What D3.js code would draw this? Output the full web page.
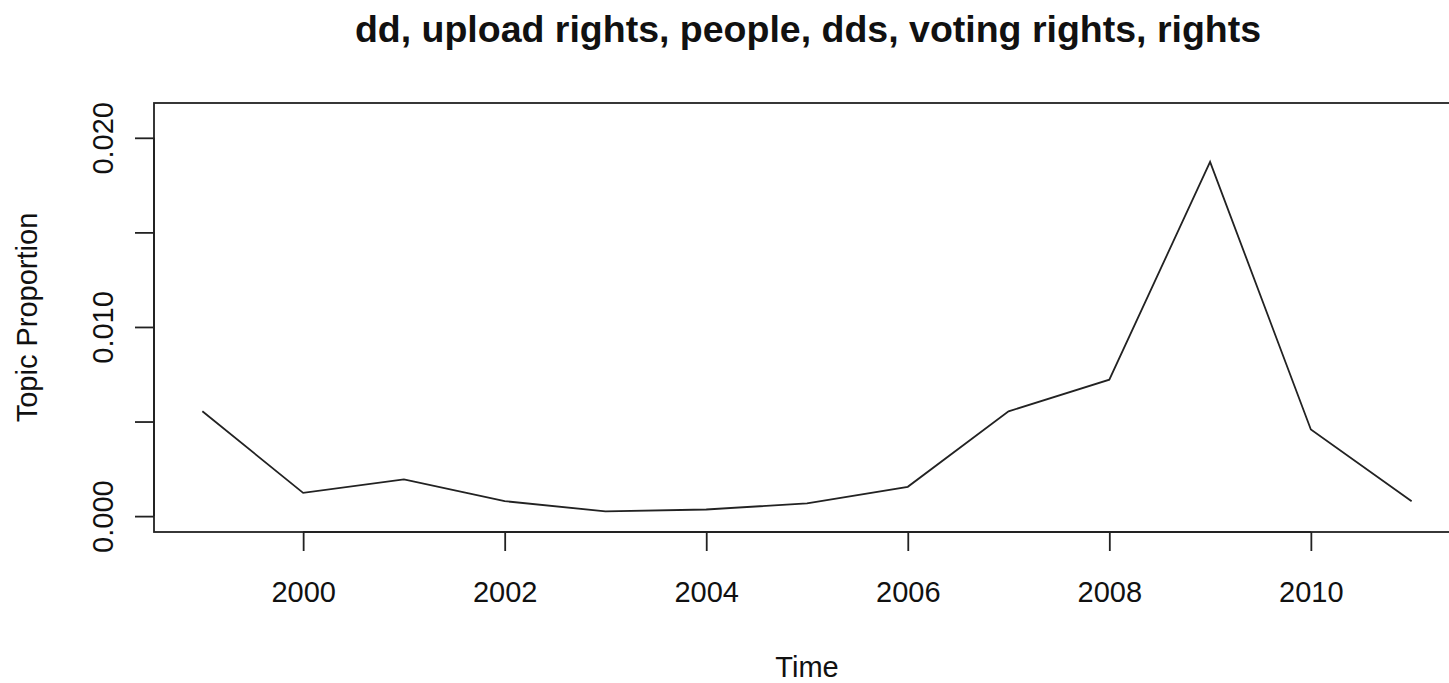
<!DOCTYPE html>
<html>
<head>
<meta charset="utf-8">
<script src="https://cdn.jsdelivr.net/npm/d3@7"></script>
<style>
  html, body { margin: 0; padding: 0; background: #fff; }
  svg text { font-family: "Liberation Sans", Arial, Helvetica, sans-serif; fill: #111; }
</style>
</head>
<body>
<svg id="chart" width="1449" height="683"></svg>
<script>
const years = [1999, 2000, 2001, 2002, 2003, 2004, 2005, 2006, 2007, 2008, 2009, 2010, 2011];
const proportions = [0.00554, 0.00123, 0.00194, 0.00079, 0.00025, 0.00035, 0.00067, 0.00155, 0.00554, 0.00721, 0.01873, 0.00458, 0.00079];
const xTicks = [2000, 2002, 2004, 2006, 2008, 2010];
const yTicks = [0.000, 0.005, 0.010, 0.015, 0.020];
const yTickLabels = ["0.000", "", "0.010", "", "0.020"];
const titleText = "dd, upload rights, people, dds, voting rights, rights";
const xLabel = "Time";
const yLabel = "Topic Proportion";

(function () {
const svg = d3.select("#chart");
const pLeft = 154, pRight = 1460, pTop = 103, pBottom = 532;

const x = d3.scaleLinear().domain([1998.52, 2011.48]).range([pLeft, pRight]);
const y = d3.scaleLinear().domain([-0.00084, 0.02184]).range([pBottom, pTop]);

const ink = "#222";

// plot box
svg.append("rect")
  .attr("x", pLeft).attr("y", pTop)
  .attr("width", pRight - pLeft).attr("height", pBottom - pTop)
  .attr("fill", "none").attr("stroke", ink).attr("stroke-width", 1.8);

// x axis
const xAxis = d3.axisBottom(x).tickValues(xTicks).tickFormat(d3.format("d")).tickSize(19).tickPadding(30);
const gx = svg.append("g").attr("transform", `translate(0,${pBottom})`).call(xAxis);
gx.select(".domain").attr("d", `M${x(xTicks[0])},0H${x(xTicks[xTicks.length-1])}`).attr("stroke", ink).attr("stroke-width", 1.8);
gx.selectAll(".tick line").attr("stroke", ink).attr("stroke-width", 1.8);
gx.selectAll(".tick text").attr("font-size", 29).attr("font-family", "Liberation Sans, Arial, sans-serif").attr("fill", "#111");

// y axis
const yAxis = d3.axisLeft(y).tickValues(yTicks).tickFormat((d, i) => yTickLabels[i]).tickSize(19).tickPadding(0);
const gy = svg.append("g").attr("transform", `translate(${pLeft},0)`).call(yAxis);
gy.select(".domain").attr("d", `M0,${y(yTicks[0])}V${y(yTicks[yTicks.length-1])}`).attr("stroke", ink).attr("stroke-width", 1.8);
gy.selectAll(".tick line").attr("stroke", ink).attr("stroke-width", 1.8);
gy.selectAll(".tick text")
  .attr("font-size", 29).attr("font-family", "Liberation Sans, Arial, sans-serif").attr("fill", "#111")
  .attr("x", null).attr("dy", null)
  .attr("text-anchor", "middle")
  .attr("transform", "translate(-41,0) rotate(-90)");

// line
const line = d3.line().x((d, i) => x(years[i])).y(d => y(d));
svg.append("path")
  .datum(proportions)
  .attr("d", line)
  .attr("fill", "none").attr("stroke", ink).attr("stroke-width", 1.8)
  .attr("stroke-linejoin", "miter");

// title
svg.append("text")
  .attr("x", 808).attr("y", 42)
  .attr("text-anchor", "middle")
  .attr("font-size", 37.5).attr("font-weight", "bold")
  .text(titleText);

// axis labels
svg.append("text")
  .attr("x", (pLeft + pRight) / 2).attr("y", 677)
  .attr("text-anchor", "middle").attr("font-size", 29)
  .text(xLabel);

svg.append("text")
  .attr("transform", `translate(37,${(pTop + pBottom) / 2}) rotate(-90)`)
  .attr("text-anchor", "middle").attr("font-size", 29)
  .text(yLabel);
})();
</script>
</body>
</html>
